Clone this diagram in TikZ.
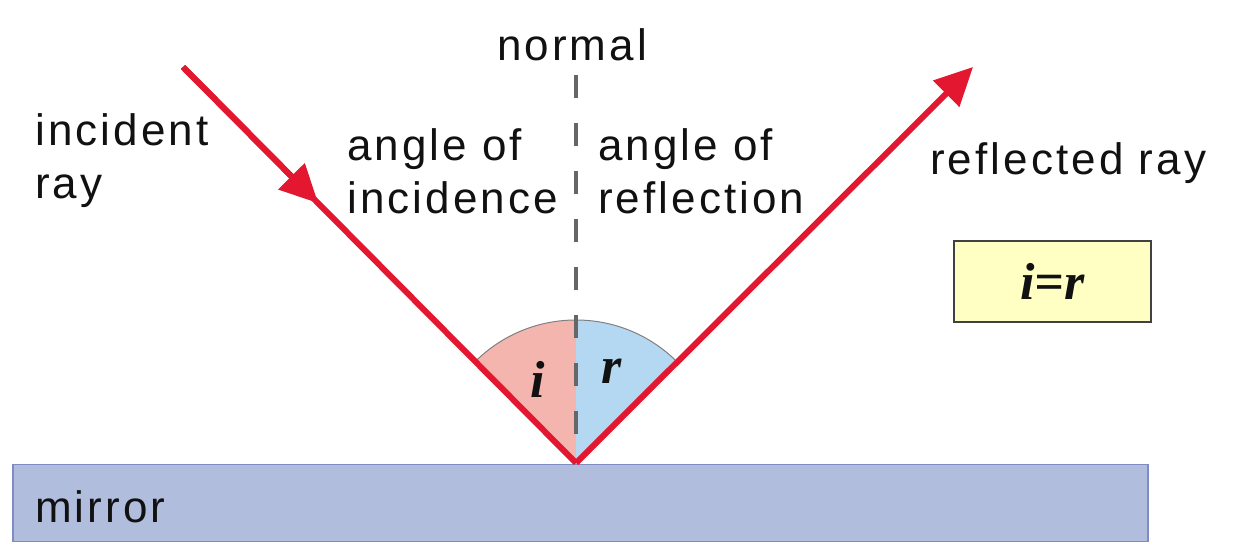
\documentclass[tikz,border=0pt]{standalone}
\usepackage{fontspec}
\setmainfont{Liberation Sans}[LetterSpace=7]
\newfontfamily\symfont{Liberation Serif}
\usetikzlibrary{arrows.meta,calc}
\definecolor{raycol}{HTML}{E3172F}
\definecolor{pinkc}{HTML}{F4B5AF}
\definecolor{bluec}{HTML}{B4D8F1}
\definecolor{mirrorfill}{HTML}{B0BDDD}
\definecolor{mirrordraw}{HTML}{7E8CC3}
\definecolor{boxfill}{HTML}{FFFFC4}
\definecolor{normcol}{HTML}{666666}
\definecolor{txt}{HTML}{111111}
\tikzset{
  lbl/.style={inner sep=0pt, text=txt, font=\fontsize{44}{53}\selectfont, align=left},
  sym/.style={inner sep=0pt, text=txt, font=\fontsize{52}{52}\symfont\bfseries\itshape},
  ray/.style={draw=raycol, line width=6pt},
  rayhead/.style={-{Triangle[length=38pt,width=36pt]}},
}
\begin{document}
\begin{tikzpicture}[x=1pt,y=1pt]
\useasboundingbox (0,0) rectangle (1239,557);
% mirror
\node[draw=mirrordraw, fill=mirrorfill, line width=1.5pt, minimum width=1135pt, minimum height=77pt, anchor=south west, inner sep=0pt] (mirror) at (12,15) {};
\node[lbl, anchor=base west] (mirrorlbl) at (35,35) {mirror};
\coordinate (O) at (576,94);
\coordinate (src) at (183,490);
\coordinate (tip) at (973,490);
\coordinate (ntop) at (576,482);
% sectors
\fill[pinkc] (O) -- ++(90:143) arc[start angle=90,end angle=135,radius=143] -- cycle;
\fill[bluec] (O) -- ++(45:143) arc[start angle=45,end angle=90,radius=143] -- cycle;
\draw[gray, line width=1pt] ($(O)+(135:143)$) arc[start angle=135,end angle=45,radius=143];
\node[sym] (ilbl) at (538,178) {i};
\node[sym] (rlbl) at (612,186) {r};
% normal
\draw[normcol, line width=4pt, dash pattern=on 23pt off 25pt] (ntop) -- (O);
\node[lbl] (normal) at (572,512) {normal};
% rays
\coordinate (mid) at ($(src)!0.344!(O)$);
\draw[ray] (src) -- (O);
\draw[ray, rayhead] (src) -- (mid);
\draw[ray, rayhead] (O) -- (tip);
% labels
\node[lbl, anchor=base west] (inc) at (35,358) {incident\\ray};
\node[lbl, anchor=base west] (aoi) at (347,343) {angle of\\incidence};
\node[lbl, anchor=base west] (aor) at (598,343) {angle of\\reflection};
\node[lbl, anchor=base west] (refl) at (930,382) {reflected ray};
% box
\node[draw=txt!80, fill=boxfill, line width=2pt, minimum width=197pt, minimum height=81pt, anchor=south west, inner sep=0pt] (eqbox) at (953,234) {};
\node[sym] (eq) at (eqbox.center) {i=r};
\end{tikzpicture}
\end{document}
